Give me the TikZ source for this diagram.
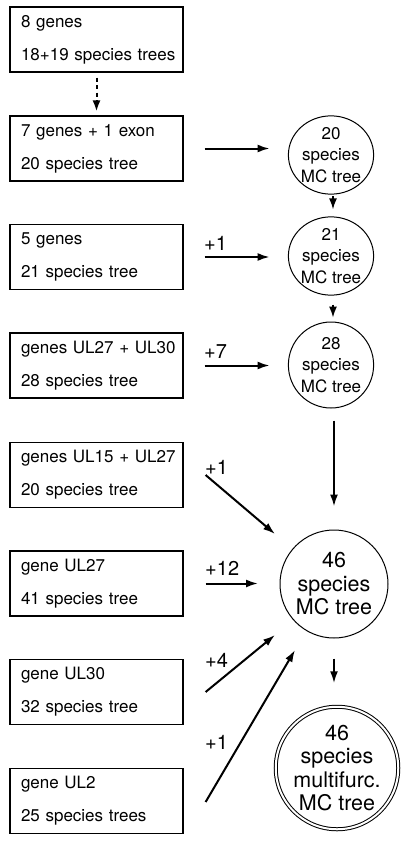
\documentclass[tikz,border=0pt]{standalone}
\usepackage{fontspec}
\setmainfont{TeX Gyre Heros}
\usetikzlibrary{arrows.meta,shapes.geometric}
\begin{document}
\begin{tikzpicture}[x=1pt,y=-1pt,
 box/.style={draw,line width=1.2pt,minimum width=173pt,minimum height=65pt,text width=151pt,align=left,inner sep=0pt,font=\fontsize{17}{33}\selectfont},
 smallc/.style={draw,ellipse,line width=1pt,minimum width=77pt,minimum height=77pt,inner sep=0pt,align=center,font=\fontsize{17}{21.5}\selectfont},
 bigc/.style={draw,circle,line width=1pt,minimum size=108pt,inner sep=0pt,align=center,font=\fontsize{21.5}{23.5}\selectfont},
 arr/.style={line width=2pt,-{Latex[length=12pt,width=8pt]}},
 sarr/.style={line width=1.4pt,-{Latex[length=11pt,width=8pt]}},
 lab/.style={font=\fontsize{20}{20}\selectfont,inner sep=0pt,anchor=west}
]
\useasboundingbox (0,0) rectangle (400,841);
% boxes
\node[box] (b1) at (96.5,39.5) {\mbox{8 genes}\\\mbox{18+19 species trees}};
\node[box] (b2) at (96.5,148.5) {\mbox{7 genes + 1 exon}\\\mbox{20 species tree}};
\node[box] (b3) at (96.5,257) {\mbox{5 genes}\\\mbox{21 species tree}};
\node[box] (b4) at (96.5,365.5) {\mbox{genes UL27 + UL30}\\\mbox{28 species tree}};
\node[box] (b5) at (96.5,475) {\mbox{genes UL15 + UL27}\\\mbox{20 species tree}};
\node[box] (b6) at (96.5,583.5) {\mbox{gene UL27}\\\mbox{41 species tree}};
\node[box] (b7) at (96.5,692) {\mbox{gene UL30}\\\mbox{32 species tree}};
\node[box] (b8) at (96.5,801) {\mbox{gene UL2}\\\mbox{25 species trees}};
% circles
\node[smallc] (c1) at (331,155) {20\\species\\MC tree};
\node[smallc] (c2) at (331,256) {21\\species\\MC tree};
\node[smallc,minimum height=86pt] (c3) at (331,365) {28\\species\\MC tree};
\node[bigc] (c4) at (334,584) {46\\species\\MC tree};
\node[bigc,minimum size=112pt,double,double distance=2pt,line width=1pt] (c5) at (337,768) {46\\species\\multifurc.\\MC tree};
% target coordinates
\coordinate (t5) at (275,534);
\coordinate (t6) at (258,583.5);
\coordinate (t7) at (275,635);
\coordinate (t8) at (295,650);
% arrows
\draw[line width=2pt,dash pattern=on 4pt off 3.5pt,-{Latex[length=11pt,width=8pt]}] ([yshift=-5pt]b1.south) -- ([yshift=4pt]b2.north);
\draw[arr] ([xshift=21pt]b2.east) -- ([xshift=86pt]b2.east);
\draw[arr] ([xshift=21pt]b3.east) -- ([xshift=86pt]b3.east);
\draw[arr] ([xshift=21pt]b4.east) -- ([xshift=86pt]b4.east);
\draw[sarr,shorten <=1.5pt,shorten >=7pt] ([xshift=2pt]c1.south) -- ([xshift=2pt]c2.north);
\draw[sarr,shorten <=9pt,shorten >=4pt] ([xshift=2pt]c2.south) -- ([xshift=2pt]c3.north);
\draw[arr,shorten <=12pt,shorten >=23pt] (c3.south -| c4.north) -- (c4.north);
\draw[arr,shorten <=20pt,shorten >=23pt] (c4.south) -- (c5.north -| c4.south);
\draw[arr] ([xshift=22pt]b5.east) -- (t5);
\draw[arr] ([xshift=22pt]b6.east) -- (t6);
\draw[arr] ([xshift=22pt,yshift=0pt]b7.east) -- (t7);
\draw[arr] ([xshift=22pt,yshift=-1pt]b8.east) -- (t8);
% labels
\node[lab] (l3) at (204,243) {+1};
\node[lab] (l4) at (204,352) {+7};
\node[lab] (l5) at (205,467) {+1};
\node[lab] (l6) at (205,568) {+12};
\node[lab] (l7) at (205,660) {+4};
\node[lab] (l8) at (205,742) {+1};
\end{tikzpicture}
\end{document}
